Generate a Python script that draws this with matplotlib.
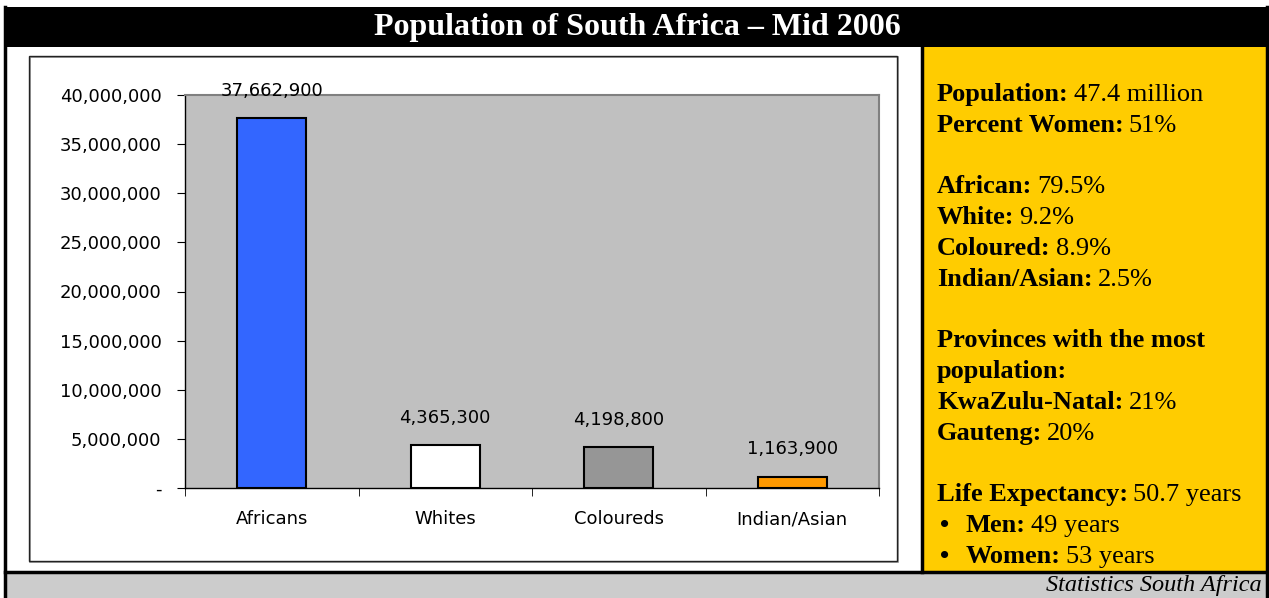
import matplotlib
matplotlib.use("Agg")
import matplotlib.pyplot as plt
from matplotlib.patches import Rectangle
from matplotlib.ticker import FuncFormatter, MultipleLocator

# data
categories = ['Africans', 'Whites', 'Coloureds', 'Indian/Asian']
population = [37662900, 4365300, 4198800, 1163900]
bar_colors = ['#3366FF', '#FFFFFF', '#969696', '#FF9900']

title = 'Population of South Africa \u2013 Mid 2006'
source = 'Statistics South Africa'

# side panel: (bold part, regular part, bullet?) -- None is a blank line
panel_lines = [
    ('Population:', '47.4 million', False),
    ('Percent Women:', '51%', False),
    None,
    ('African:', '79.5%', False),
    ('White:', '9.2%', False),
    ('Coloured:', '8.9%', False),
    ('Indian/Asian:', '2.5%', False),
    None,
    ('Provinces with the most', '', False),
    ('population:', '', False),
    ('KwaZulu-Natal:', '21%', False),
    ('Gauteng:', '20%', False),
    None,
    ('Life Expectancy:', '50.7 years', False),
    ('Men:', '49 years', True),
    ('Women:', '53 years', True),
]

W, H = 1269, 598
fig = plt.figure(figsize=(W / 100, H / 100), dpi=100)
fig.patch.set_facecolor('white')

# pixel-space layer for the frame pieces
bg = fig.add_axes([0, 0, 1, 1])
bg.set_xlim(0, W)
bg.set_ylim(H, 0)
bg.axis('off')

def box(x0, y0, x1, y1, **kw):
    bg.add_patch(Rectangle((x0, y0), x1 - x0, y1 - y0, **kw))

box(5, 7, 1267, 47, facecolor='black', edgecolor='none')          # title bar
box(5, 47, 922, 572, facecolor='white', edgecolor='none')          # chart panel
box(922, 47, 1267, 572, facecolor='#FFCC00', edgecolor='none')     # info panel
box(5, 572, 1267, 600, facecolor='#CCCCCC', edgecolor='none')      # footer
bg.plot([5, 5], [7, 600], color='black', lw=2.5)
bg.plot([1267, 1267], [7, 600], color='black', lw=2.5)
bg.plot([922, 922], [47, 572], color='black', lw=2.5)
bg.plot([5, 1267], [572, 572], color='black', lw=2.5)
# chart frame with a small shadow
box(30, 57, 898, 562, facecolor='none', edgecolor='#909090', lw=1.2)
box(29, 56, 897, 561, facecolor='none', edgecolor='#222222', lw=1.0)

bg.text(637, 28, title, color='white', ha='center', va='center',
        family='Liberation Serif', weight='bold', fontsize=23)
bg.text(1262, 586, source, ha='right', va='center',
        family='Liberation Serif', style='italic', fontsize=17.5)

# bar chart
ax = fig.add_axes([185 / W, (H - 488) / H, 694 / W, 393 / H])
ax.set_facecolor('#C0C0C0')
x = range(len(categories))
ax.bar(x, population, width=0.4, color=bar_colors, edgecolor='black', linewidth=1.5)
ax.set_xlim(-0.5, len(categories) - 0.5)
ax.set_ylim(0, 40000000)
ax.yaxis.set_major_locator(MultipleLocator(5000000))
ax.yaxis.set_major_formatter(FuncFormatter(lambda v, p: '-' if v == 0 else f'{int(v):,}'))
ax.set_xticks(list(x))
ax.set_xticklabels(categories)
ax.set_xticks([i - 0.5 for i in range(len(categories) + 1)], minor=True)
ax.tick_params(axis='x', which='major', length=0, pad=16)
ax.tick_params(axis='x', which='minor', length=6, direction='out', color='black')
ax.tick_params(axis='y', length=6, direction='out', pad=11, color='black')
for lab in ax.get_xticklabels() + ax.get_yticklabels():
    lab.set_family('DejaVu Sans')
    lab.set_fontsize(13)
for s in ['top', 'right']:
    ax.spines[s].set_color('#808080')
    ax.spines[s].set_linewidth(1.5)
for s in ['left', 'bottom']:
    ax.spines[s].set_color('black')
    ax.spines[s].set_linewidth(1)

for i, v in enumerate(population):
    ax.annotate(f'{v:,}', xy=(i, v), xytext=(0, 19.5), textcoords='offset points',
                ha='center', va='center', fontsize=13, family='DejaVu Sans',
                annotation_clip=False)

# info panel text, bold label followed by regular value
fig.canvas.draw()
renderer = fig.canvas.get_renderer()
base0, step = 101, 30.8
fs = 19
for i, row in enumerate(panel_lines):
    if row is None:
        continue
    bold, regular, bullet = row
    yb = base0 + step * i
    x0 = 937
    if bullet:
        bg.text(940, yb, '\u2022', va='baseline', ha='left', family='Liberation Serif',
                weight='bold', fontsize=fs)
        x0 = 966
    t = bg.text(x0, yb, bold, va='baseline', ha='left', family='Liberation Serif',
                weight='bold', fontsize=fs)
    if regular:
        bb = t.get_window_extent(renderer)
        xr = bb.x1 + 5
        bg.text(xr, yb, regular, va='baseline', ha='left', family='Liberation Serif', fontsize=fs)

fig.savefig('out.png', dpi=100)
